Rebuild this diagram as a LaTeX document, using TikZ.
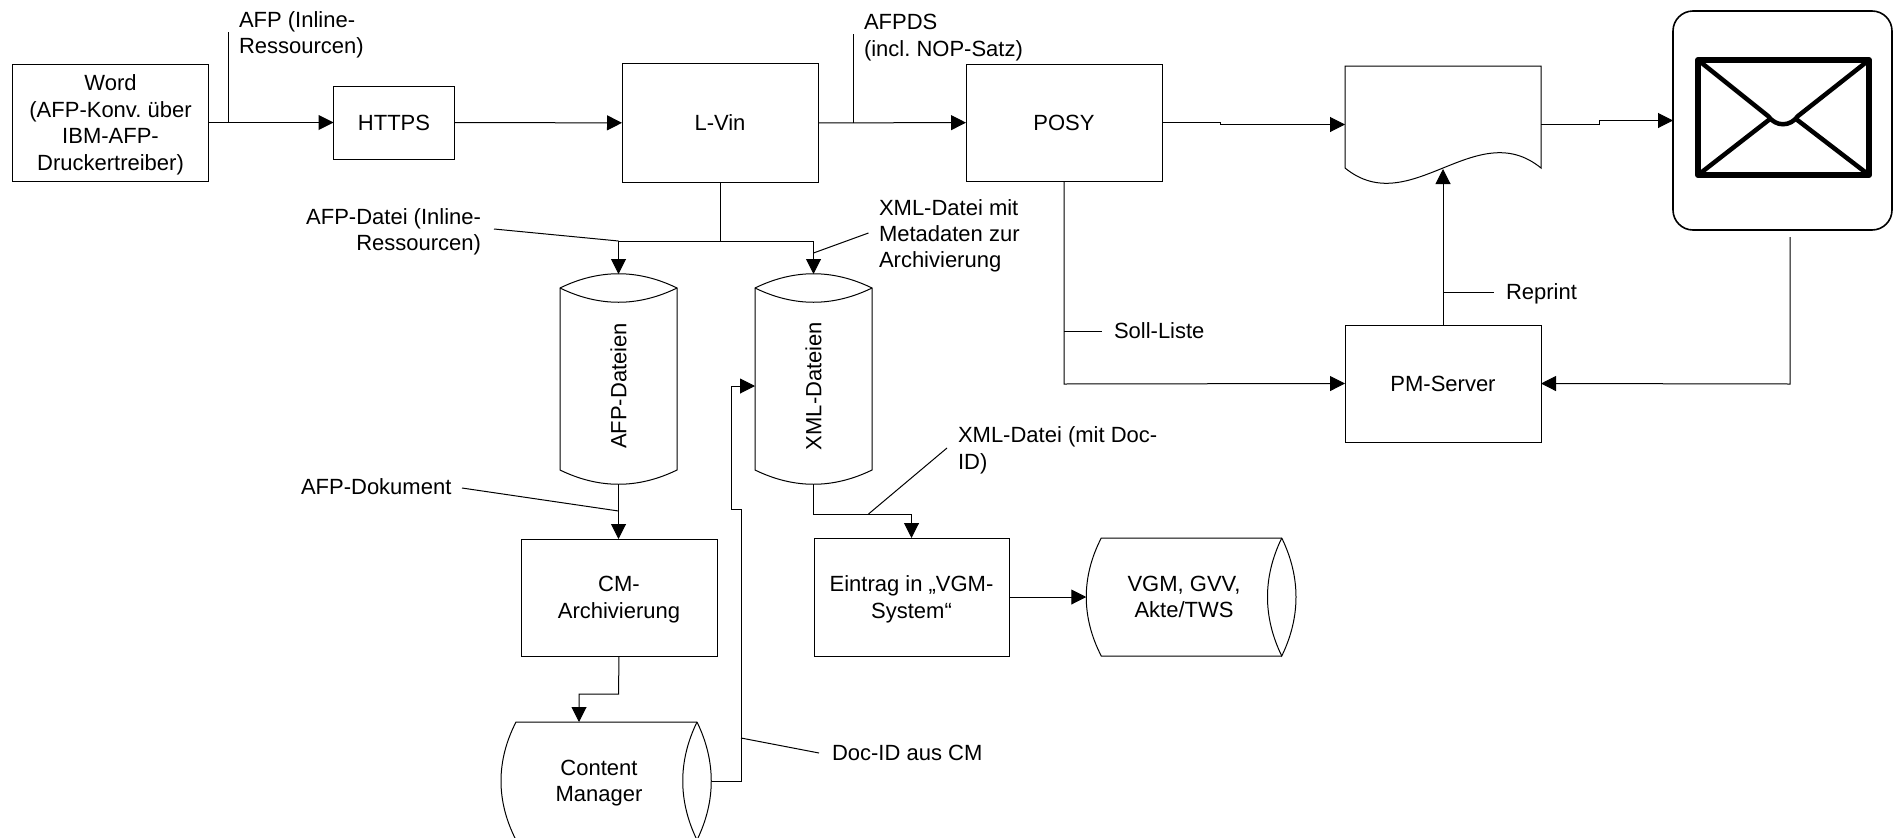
\documentclass[tikz,border=0pt]{standalone}
\usepackage{fontspec}
\setmainfont{Liberation Sans}
\frenchspacing
\usetikzlibrary{arrows.meta}
\tikzset{
	box/.style={draw, inner sep=0, outer sep=0, align=center, text depth=0pt},
	drum/.style={inner sep=0, outer sep=0, align=center, text depth=0pt},
	lbl/.style={inner sep=0, outer sep=0, align=left, text depth=0pt},
}
% drum standing upright, node runs from the shoulder to the lower bulge
\newcommand{\vdrum}[1]{
	\draw (#1.north west) .. controls +(39,-19) and +(-39,-19) .. (#1.north east)
		-- ([yshift=14pt]#1.south east) .. controls +(-39,19) and +(39,19) .. ([yshift=14pt]#1.south west) -- cycle;
	\draw (#1.north west) .. controls +(39,19) and +(-39,19) .. (#1.north east);
}
% drum lying down, node runs from the bulge to the middle of the lens
\newcommand{\hdrum}[1]{
	\draw (#1.north east) -- ([xshift=15pt]#1.north west) .. controls +(-20,39) and +(-20,-39) .. ([xshift=15pt]#1.south west) -- (#1.south east);
	\draw (#1.north east) .. controls +(19,39) and +(19,-39) .. (#1.south east)
		.. controls +(-19,-39) and +(-19,39) .. (#1.north east);
}
\begin{document}
\begin{tikzpicture}[x=1pt, y=-1pt, line width=1pt, >={Triangle[length=15pt,width=15pt]}, font=\fontsize{22}{26.4}\selectfont]
	\clip (0,0) rectangle (1896,838);
	%Top row
	\node [box, minimum width=196, minimum height=117] (word) at (110.5,122.5) {Word\\(AFP-Konv. über\\IBM-AFP-\\Druckertreiber)};
	\node [box, minimum width=121, minimum height=73] (https) at (394,122.5) {HTTPS};
	\node [box, minimum width=196, minimum height=119] (lvin) at (720,123) {L-Vin};
	\node [box, minimum width=196, minimum height=117] (posy) at (1064,122.5) {POSY};
	\node [drum, minimum width=196, minimum height=117] (doc) at (1443,124.5) {};
	\node [box, minimum width=219, minimum height=219, rounded corners=20, line width=1.6pt] (mailbox) at (1782.5,120.5) {};
	%Storage and lower boxes
	\node [drum, minimum width=117, minimum height=196] (afpfiles) at (618.5,386) {\rotatebox{90}{AFP-Dateien}};
	\node [drum, minimum width=117, minimum height=196] (xmlfiles) at (813.5,386) {\rotatebox{90}{XML-Dateien}};
	\node [box, minimum width=196, minimum height=117] (cmarch) at (619,597.5) {CM-\\Archivierung};
	\node [drum, minimum width=196, minimum height=118] (cmstore) at (599,781) {Content\\Manager};
	\node [box, minimum width=195, minimum height=118] (vgmentry) at (911.5,597) {Eintrag in „VGM-\\System“};
	\node [drum, minimum width=195.5, minimum height=118] (vgmstore) at (1184,597) {VGM, GVV,\\Akte/TWS};
	\node [box, minimum width=196, minimum height=117] (pmserver) at (1443,383.5) {PM-Server};
	\vdrum{afpfiles}
	\vdrum{xmlfiles}
	\hdrum{cmstore}
	\hdrum{vgmstore}
	%Print sheet
	\draw (doc.north west) -- (doc.north east) -- (1541,168) .. controls (1476,115) and (1410,221) .. (1345,168) -- cycle;
	%Envelope
	\draw [line width=6pt, line join=round] (1698,60) rectangle (1869,175);
	\draw [line width=4.5pt, line cap=round] (1698,60) -- (1768,116) .. controls (1776,127) and (1790,127) .. (1798,116) -- (1869,60);
	\draw [line width=4.5pt] (1698,175) -- (1770,119);
	\draw [line width=4.5pt] (1869,175) -- (1796,119);
	%Labels
	\node [lbl, anchor=west] (afplbl) at (239,32.5) {AFP (Inline-\\Ressourcen)};
	\node [lbl, anchor=west] (afpdslbl) at (864,35.5) {AFPDS\\(incl. NOP-Satz)};
	\node [lbl, anchor=east, align=right] (afpfilelbl) at (481,229.5) {AFP-Datei (Inline-\\Ressourcen)};
	\node [lbl, anchor=west] (xmlfilelbl) at (879,233.5) {XML-Datei mit\\Metadaten zur\\Archivierung};
	\node [lbl, anchor=west] (docfilelbl) at (958,448) {XML-Datei (mit Doc-\\ID)};
	\node [lbl, anchor=west] (afpdoclbl) at (301,487) {AFP-Dokument};
	\node [lbl, anchor=west] (docidlbl) at (832,753) {Doc-ID aus CM};
	\node [lbl, anchor=west] (solllbl) at (1114,331) {Soll-Liste};
	\node [lbl, anchor=west] (reprintlbl) at (1506,292) {Reprint};
	%Junctions
	\coordinate (afptick) at (228,122.5);
	\coordinate (afpend) at (228,32);
	\coordinate (afpdstick) at (853,123);
	\coordinate (afpdsend) at (853,34);
	\coordinate (split) at (720,241);
	\coordinate (afpfilestart) at (494,229);
	\coordinate (xmlfilestart) at (868.5,233);
	\coordinate (xmlfiletick) at (813.5,253);
	\coordinate (afpdocstart) at (462,488);
	\coordinate (afpdoctick) at (618.5,511);
	\coordinate (xmlbend) at (813.5,514);
	\coordinate (docfilestart) at (947,448);
	\coordinate (docfiletick) at (868.5,514);
	\coordinate (cmbend) at (618.5,694);
	\coordinate (cmtop) at (579,722);
	\coordinate (docidbend) at (741,781);
	\coordinate (docidjog) at (741,509);
	\coordinate (docidjogb) at (731,509);
	\coordinate (docidstart) at (819,753);
	\coordinate (docidtick) at (741,738);
	\coordinate (sollbend) at (1064,384);
	\coordinate (solltick) at (1064,331);
	\coordinate (sollend) at (1102,331);
	\coordinate (reprinttick) at (1443,292);
	\coordinate (reprintend) at (1494,292);
	\coordinate (docwave) at (1443,169);
	\coordinate (mailend) at (1790,237);
	\coordinate (mailbend) at (1790,384);
	\coordinate (docjog) at (1599,124.5);
	%Flow
	\draw [->] (word) -- (https);
	\draw [->] (https) -- (lvin);
	\draw [->] (lvin) -- (posy);
	\draw [->] (posy.east) -- ++(58,0) |- (doc.west);
	\draw [->] (doc.east) -- (docjog) |- (mailbox.west);
	\draw (lvin.south) -- (split);
	\draw [->] (split) -| ([yshift=14pt]afpfiles.north);
	\draw [->] (split) -| ([yshift=14pt]xmlfiles.north);
	\draw [->] (afpfiles.south) -- (afpfiles.south |- cmarch.north);
	\draw [->] (cmarch.south) -- (cmbend) -| (cmtop);
	\draw [->] (xmlfiles.south) -- (xmlbend) -| (vgmentry.north);
	\draw [->] (vgmentry) -- (vgmstore);
	\draw [->] ([xshift=14.5pt]cmstore.east) -- (docidbend) -- (docidjog) -- (docidjogb) |- (xmlfiles.west);
	\draw [->] (posy.south) -- (sollbend) -- (pmserver.west);
	\draw [->] (pmserver.north) -- (docwave);
	\draw [->] (mailend) -- (mailbend) -- (pmserver.east);
	%Leaders
	\draw (afptick) -- (afpend);
	\draw (afpdstick) -- (afpdsend);
	\draw (afpfilestart) -- (afpfiles.north |- split);
	\draw (xmlfilestart) -- (xmlfiletick);
	\draw (afpdocstart) -- (afpdoctick);
	\draw (docfilestart) -- (docfiletick);
	\draw (docidstart) -- (docidtick);
	\draw (solltick) -- (sollend);
	\draw (reprinttick) -- (reprintend);
\end{tikzpicture}
\end{document}
